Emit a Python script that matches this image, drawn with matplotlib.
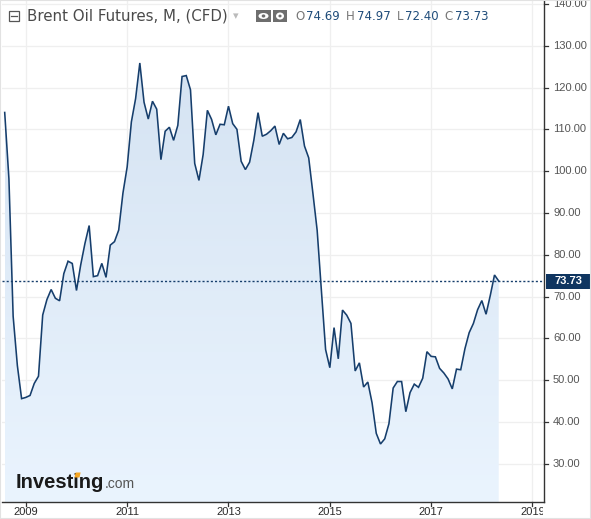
import matplotlib
matplotlib.use("Agg")
import matplotlib.pyplot as plt
import numpy as np
from matplotlib.patches import Rectangle, Ellipse, Circle, Polygon
from matplotlib.transforms import Bbox

# ---------------- data ----------------
start_year = 2008
start_month = 8  # August 2008
closes = [
    114.05, 98.17, 65.28, 53.49, 45.59,
    45.88, 46.35, 49.23, 50.95, 65.60, 69.30, 71.70, 69.60, 69.00, 75.50, 78.47, 77.93,
    71.46, 77.59, 82.70, 87.00, 74.78, 75.01, 77.95, 74.60, 82.31, 83.15, 85.92, 94.75,
    101.01, 111.80, 117.36, 125.89, 116.50, 112.48, 116.74, 114.85, 102.76, 109.56, 110.52, 107.38,
    110.98, 122.66, 122.88, 119.47, 101.87, 97.80, 104.00, 114.57, 112.39, 108.70, 111.23, 111.11,
    115.55, 111.38, 110.02, 102.37, 100.39, 102.16, 107.40, 114.01, 108.37, 108.84, 109.69, 110.80,
    106.40, 109.07, 107.76, 108.07, 109.41, 112.36, 106.02, 103.19, 94.67, 85.86, 71.50, 57.33,
    52.99, 62.58, 55.11, 66.78, 65.56, 63.59, 52.21, 54.15, 48.37, 49.56, 44.61, 37.28,
    34.74, 35.97, 39.60, 48.13, 49.69, 49.68, 42.46, 47.04, 49.06, 48.30, 50.47, 56.82,
    55.70, 55.59, 52.83, 51.73, 50.31, 47.92, 52.65, 52.50, 57.54, 61.37, 63.57, 66.87,
    69.05, 65.78, 70.27, 75.17, 73.73,
]
x_ticks = [2009, 2011, 2013, 2015, 2017, 2019]
x_tick_labels = ["2009", "2011", "2013", "2015", "2017", "2019"]
y_ticks = [30, 40, 50, 60, 70, 80, 90, 100, 110, 120, 130, 140]
title = "Brent Oil Futures, M, (CFD)"
ohlc_keys = ["O", "H", "L", "C"]
ohlc_vals = ["74.69", "74.97", "72.40", "73.73"]
last_value = 73.73

# ---------------- figure ----------------
W, H = 591, 519
fig = plt.figure(figsize=(W / 100, H / 100), dpi=100)
fig.patch.set_facecolor("white")

def fx(px):
    return px / W

def fy(py):
    return 1 - py / H

ax_l, ax_r, ax_t, ax_b = 2, 544, 0, 502
ax = fig.add_axes([fx(ax_l), fy(ax_b), fx(ax_r - ax_l), (ax_b - ax_t) / H])
ax.set_facecolor("white")

xs = np.array([start_year + (start_month - 1 + i) / 12.0 for i in range(len(closes))])
ys = np.array(closes)

x0, x1 = 2008.53, 2019.227
y0, y1 = 20.86, 140.96
ax.set_xlim(x0, x1)
ax.set_ylim(y0, y1)

# grid
for yt in y_ticks:
    ax.axhline(yt, color="#efefef", lw=0.9, zorder=0)
for xt in x_ticks:
    ax.axvline(xt, color="#efefef", lw=0.9, zorder=0)

# gradient fill under the line
verts = [(xs[0], y0)] + list(zip(xs, ys)) + [(xs[-1], y0)]
poly = Polygon(verts, closed=True, facecolor="none", edgecolor="none")
ax.add_patch(poly)
grad = np.linspace(0, 1, 256).reshape(-1, 1)
top_c = np.array([0xd5, 0xe3, 0xf2]) / 255
bot_c = np.array([0xea, 0xf4, 0xfe]) / 255
img = top_c[None, None, :] * (1 - grad[..., None]) + bot_c[None, None, :] * grad[..., None]
im = ax.imshow(img, extent=[xs[0], xs[-1], y0, 128], aspect="auto", origin="upper", zorder=1)
im.set_clip_path(poly)

ax.plot(xs, ys, color="#163e6c", lw=1.15, zorder=3, solid_joinstyle="miter")
ax.axhline(last_value, color="#163e6c", lw=1.0, ls=(0, (1.5, 1.5)), zorder=4)

for s in ["top", "left"]:
    ax.spines[s].set_visible(False)
ax.spines["right"].set_color("#333333")
ax.spines["bottom"].set_color("#333333")
ax.spines["right"].set_linewidth(1.0)
ax.spines["bottom"].set_linewidth(1.0)
ax.set_xticks([])
ax.set_yticks([])

# right axis ticks / labels
trans_y = ax.get_yaxis_transform()
for yt in y_ticks:
    ax.plot([1.0, 1.0 + 4 / (ax_r - ax_l)], [yt, yt], transform=trans_y, color="#333333",
            lw=0.9, clip_on=False)
    ax.text(1.0 + 9 / (ax_r - ax_l), yt, f"{yt:.2f}", transform=trans_y, ha="left", va="center",
            fontsize=8, color="#555555", family="Liberation Sans", clip_on=False)

# last value label
ly = ax.transData.transform((0, last_value))[1]
ly_px = H - ly
fig.patches.append(Rectangle((fx(546), fy(ly_px + 7.5)), fx(45), 15 / H, transform=fig.transFigure,
                             facecolor="#0f3560", edgecolor="none"))
fig.text(fx(568), fy(ly_px), f"{last_value:.2f}", ha="center", va="center", fontsize=8,
         color="white", weight="bold", family="Liberation Sans")

# bottom axis ticks / labels (clipped at the right axis)
trans_x = ax.get_xaxis_transform()
clipbox = Bbox.from_extents(0, 0, ax_r - 1, H)
for xt, lab in zip(x_ticks, x_tick_labels):
    ax.plot([xt, xt], [0, -4 / (ax_b - ax_t)], transform=trans_x, color="#333333", lw=0.9,
            clip_on=False)
    t = ax.text(xt, -10 / (ax_b - ax_t), lab, transform=trans_x, ha="center", va="center",
                fontsize=8, color="#2a2a2a", family="Liberation Sans", clip_on=False)
    t.set_clip_box(clipbox)
    t.set_clip_on(True)

# ---------------- header ----------------
fig.patches.append(Rectangle((fx(9), fy(21)), fx(10), 10 / H, transform=fig.transFigure,
                             facecolor="white", edgecolor="#555555", lw=0.9))
fig.lines.append(plt.Line2D([fx(11), fx(17)], [fy(16), fy(16)], transform=fig.transFigure,
                            color="#555555", lw=0.9))
renderer = fig.canvas.get_renderer()

def put(xpx, ypx, s, va="center", **kw):
    t = fig.text(fx(xpx), fy(ypx), s, ha="left", va=va, **kw)
    bb = t.get_window_extent(renderer=renderer)
    return xpx + bb.width

def width_of(s, **kw):
    t = fig.text(0, 0, s, **kw)
    w = t.get_window_extent(renderer=renderer).width
    t.remove()
    return w

xe = put(27, 16, title, fontsize=10.8, color="#4a4a4a", family="DejaVu Sans")
fig.text(fx(xe + 5), fy(16), "\u25be", ha="left", va="center", fontsize=8, color="#bbbbbb",
         family="DejaVu Sans")

# eye icon
fig.patches.append(Rectangle((fx(256), fy(22)), fx(15), 12 / H, transform=fig.transFigure,
                             facecolor="#6e6e6e", edgecolor="none"))
fig.patches.append(Ellipse((fx(263.5), fy(16)), fx(10), 6 / H, transform=fig.transFigure,
                           facecolor="white", edgecolor="none"))
fig.patches.append(Circle((fx(263.5), fy(16)), fx(1.8), transform=fig.transFigure,
                          facecolor="#6e6e6e", edgecolor="none"))
# gear icon
fig.patches.append(Rectangle((fx(273), fy(22)), fx(14), 12 / H, transform=fig.transFigure,
                             facecolor="#6e6e6e", edgecolor="none"))
fig.patches.append(Circle((fx(280), fy(16)), fx(4), transform=fig.transFigure,
                          facecolor="white", edgecolor="none"))
fig.patches.append(Circle((fx(280), fy(16)), fx(1.6), transform=fig.transFigure,
                          facecolor="#6e6e6e", edgecolor="none"))

xc = 295
for k, v in zip(ohlc_keys, ohlc_vals):
    xc = put(xc, 16, k, fontsize=8.5, color="#777777", family="DejaVu Sans")
    xc = put(xc + 2, 16, v, fontsize=8.5, color="#1f4c7a", family="DejaVu Sans")
    xc += 6

# ---------------- logo ----------------
logo_kw = dict(fontsize=14.5, weight="bold", color="#1a1a1a", family="Liberation Sans")
xl = put(16, 488, "Investing", va="baseline", **logo_kw)
wi = width_of("Invest", **logo_kw)
ix = 16 + wi
fig.patches.append(Polygon([(fx(ix + 0.2), fy(477.5)), (fx(ix + 5.2), fy(477.5)),
                            (fx(ix + 6.4), fy(472.5)), (fx(ix + 1.4), fy(472.5))],
                           closed=True, transform=fig.transFigure, facecolor="#f5a623",
                           edgecolor="none", zorder=5))
put(xl, 488, ".com", va="baseline", fontsize=10, color="#555555", family="Liberation Sans")

# outer border
fig.patches.append(Rectangle((0, 0), 1, 1, transform=fig.transFigure, facecolor="none",
                             edgecolor="#e2e2e2", lw=1.5))

fig.savefig("out.png", dpi=100)
